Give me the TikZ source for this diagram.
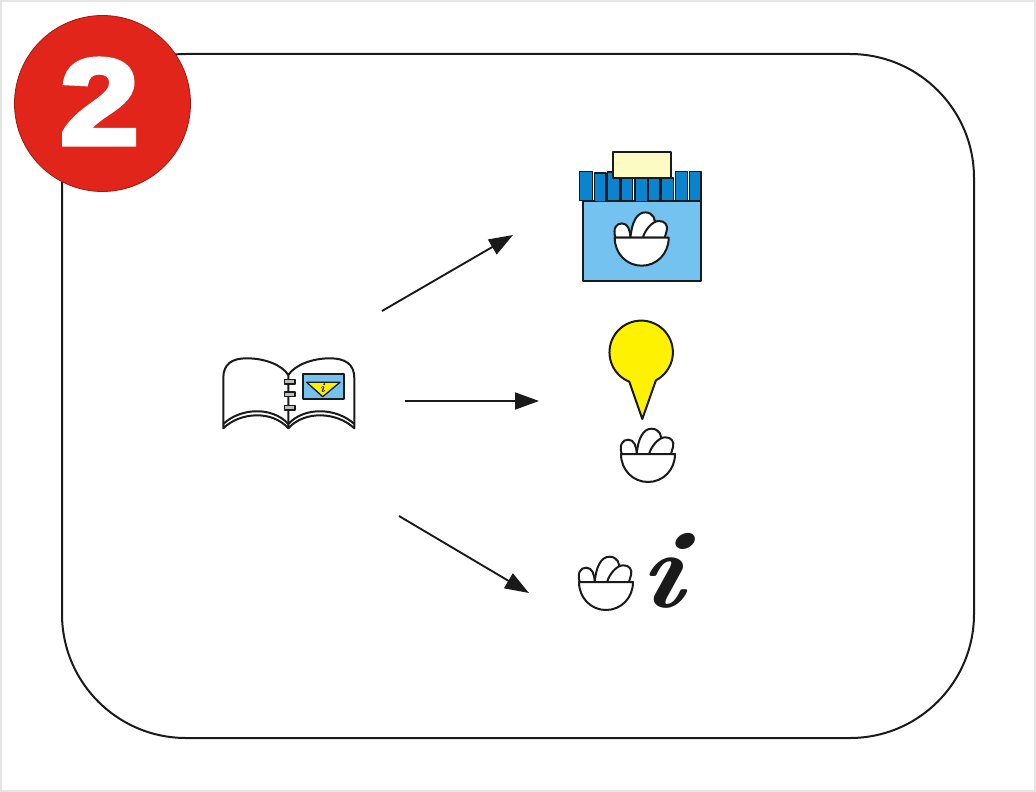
\documentclass[tikz,border=0pt]{standalone}
\usepackage{fontspec}
\usetikzlibrary{arrows.meta}
\newfontfamily\badgefont[FakeBold=4]{Liberation Sans Bold}
\newcommand{\infofont}{\normalfont\bfseries\itshape\addfontfeatures{FakeBold=2.5}}
\definecolor{inkline}{HTML}{1A1A1A}
\definecolor{badgered}{HTML}{E1251B}
\definecolor{shopblue}{HTML}{73C2EF}
\definecolor{awningblue}{HTML}{0A84CF}
\definecolor{signcream}{HTML}{FDFBC4}
\definecolor{pinyellow}{HTML}{FFF200}
\tikzset{
  outline/.style={draw=inkline,line width=2pt,line join=round},
  flow/.style={draw=inkline,line width=1.9pt,-{Stealth[inset=0pt,length=24pt,width=17pt]}},
  bowl/.pic={
    \draw[outline,fill=white] (-26.3,0) .. controls (-29,-9) and (-25.5,-14.5) .. (-19.7,-14.3)
        .. controls (-14,-14.3) and (-11.5,-8) .. (-11.3,0) -- cycle;
    \draw[outline,fill=white] (-11.3,0) .. controls (-10,-15) and (-5,-25.5) .. (3.7,-25.3)
        .. controls (11,-25.3) and (15,-18) .. (12.5,-12) -- (8,0) -- cycle;
    \draw[outline,fill=white] (1,0) .. controls (4,-9) and (11,-16.5) .. (17,-16.7)
        .. controls (23.5,-17) and (26.5,-12) .. (25,-7) -- (23,0) -- cycle;
    \draw[outline,fill=white] (-27,0) -- (27,0) .. controls (27,16) and (15,28) .. (0,28)
        .. controls (-15,28) and (-27,16) .. (-27,0) -- cycle;
  }
}
\begin{document}
\begin{tikzpicture}[x=1pt,y=-1pt]
    \useasboundingbox (0,0) rectangle (1036,792);
    \draw[draw=black!10,line width=2pt] (1,1) rectangle (1035,791);

    \draw[outline,rounded corners=124pt] (62,54) rectangle (974,738);

    \node[circle,fill=badgered,draw=badgered!70!black,line width=0.8pt,minimum size=176pt,inner sep=0pt] (badge) at (102.5,103.5) {};
    \node[text=white,inner sep=0pt,xscale=1.16] (number) at (99.5,101.5) {\fontsize{122}{122}\badgefont 2};

    \coordinate (start_1) at (382,311);
    \coordinate (end_1) at (513,235);
    \coordinate (start_2) at (405,401);
    \coordinate (end_2) at (539,401);
    \coordinate (start_3) at (399,516);
    \coordinate (end_3) at (529,593);
    \draw[flow] (start_1) -- (end_1);
    \draw[flow] (start_2) -- (end_2);
    \draw[flow] (start_3) -- (end_3);

    \draw[outline] (288.3,375) .. controls (282,365) and (265,358.3) .. (246.7,358.3)
        .. controls (232,358.3) and (223.3,364) .. (223.3,378) -- (223.3,428.3)
        .. controls (240,412) and (272,410) .. (288.3,428.3)
        .. controls (305,410) and (337,412) .. (354.3,428.3) -- (354.3,378)
        .. controls (354.3,364) and (345,358.3) .. (330,358.3)
        .. controls (312,358.3) and (295,365) .. (288.3,375) -- (288.3,428.3);
    \draw[outline] (223.3,424) .. controls (240,408) and (272,406) .. (288.3,424)
        .. controls (305,406) and (337,408) .. (354.3,424);
    \foreach \ringy in {381.7,394.3,407.7}
        \draw[outline,line width=1.5pt,fill=black!25] (284.5,\ringy-2.2) rectangle (295,\ringy+2.2);
    \draw[outline,fill=shopblue] (302.7,374.3) rectangle (344.3,399);
    \draw[outline,line width=1.3pt,fill=pinyellow] (306.7,382.3) -- (340,382.3) -- (322.7,396.7) -- cycle;
    \node[text=inkline,inner sep=0pt] (book_info) at (322.5,388) {\fontsize{13}{13}\infofont i};

    \draw[outline,fill=shopblue] (583.3,201) rectangle (701,280.7);
    \foreach \xa/\xb/\ya/\yb in {579.3/592.3/171.5/200.5,594.3/606/173/201.5,607.7/619.3/172/200.5,621/632.7/178/200.5,
        635/647.3/178/201.5,648.3/660/178/200.5,661.7/673.3/178/200.5,675.3/687.3/171.5/200.5,689.3/701/171.5/200.5}
        \draw[outline,line width=1.1pt,fill=awningblue] (\xa,\ya) rectangle (\xb,\yb);
    \draw[outline,fill=signcream] (613.3,152.3) rectangle (671.3,177.7);
    \pic at (641.7,237.7) {bowl};

    \draw[outline,fill=pinyellow] (629.3,381.7) arc[start angle=112,end angle=422.4,radius=31.7]
        -- (642.3,419) -- cycle;
    \pic at (648,454) {bowl};

    \pic at (606,582) {bowl};
    \node[text=inkline,inner sep=0pt,xscale=1.15,xslant=0.1] (info) at (663.5,571) {\fontsize{110}{110}\infofont i};
\end{tikzpicture}
\end{document}
